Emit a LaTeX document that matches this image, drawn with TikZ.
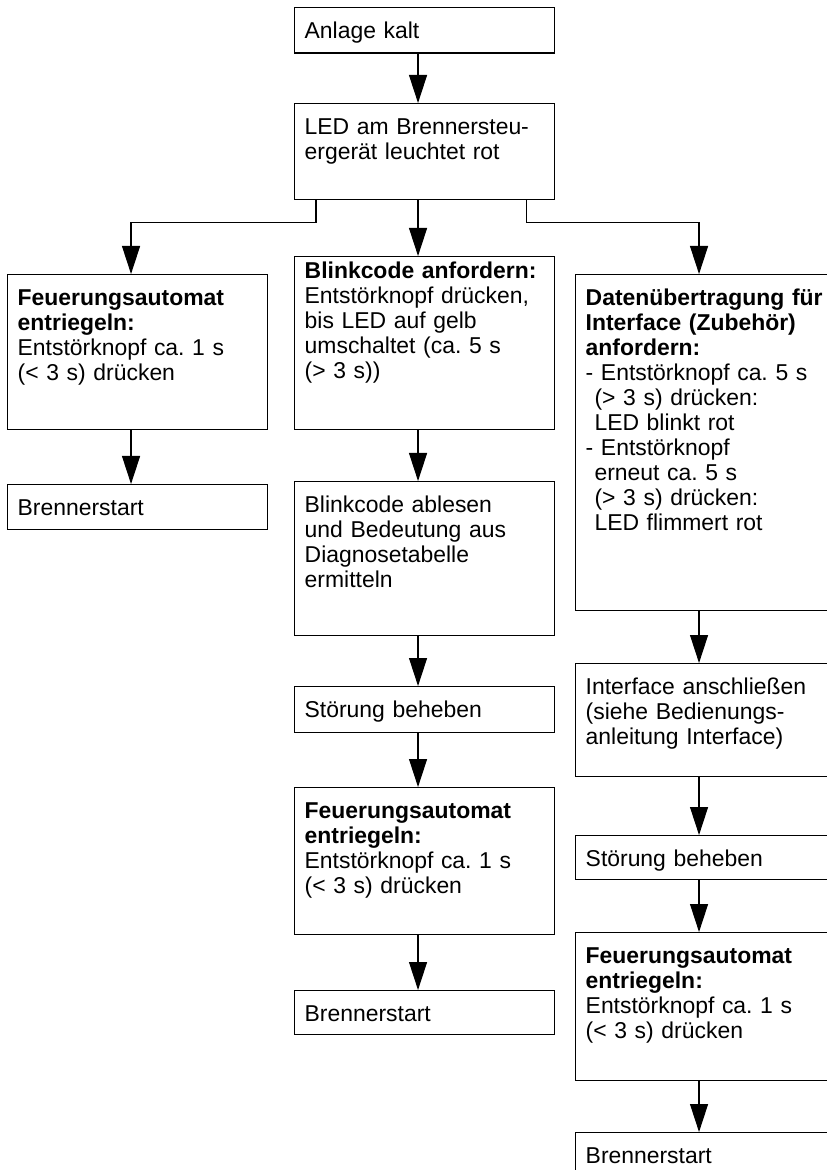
\documentclass[tikz,border=0pt]{standalone}
\usepackage{fontspec}
\setmainfont{Liberation Sans}
\usetikzlibrary{arrows.meta}
\frenchspacing

\begin{document}
\begin{tikzpicture}[x=.025cm, y=-.025cm, line width=1pt, >={Triangle[length=.7cm,width=.45cm]},
  font=\fontsize{16.3}{17.8}\selectfont,
  kasten/.style={draw, anchor=north west, text width=6cm, align=left, inner xsep=.25cm, inner ysep=0pt, text height=.76cm, text depth=#1},
  pfeil/.style={->, line width=.8pt}]
\useasboundingbox (0,0) rectangle (827,1170);
\node[kasten=.375cm] (kalt) at (294,7) {Anlage kalt};
\node[kasten=1.64cm] (led) at (294,103) {LED am Brennersteu-\\ergerät leuchtet rot};
\node[kasten=3.115cm] (entr1) at (7,274) {\textbf{Feuerungsautomat}\\\textbf{entriegeln:}\\Entstörknopf ca. 1 s\\(< 3 s) drücken};
\node[kasten=.365cm] (start1) at (7,484) {Brennerstart};
\node[kasten=3.775cm, text height=.55cm] (blink) at (294,256) {\textbf{Blinkcode anfordern:}\\Entstörknopf drücken,\\bis LED auf gelb\\umschaltet (ca. 5 s\\(> 3 s))};
\node[kasten=3.09cm] (ablesen) at (294,481) {Blinkcode ablesen\\und Bedeutung aus\\Diagnosetabelle\\ermitteln};
\node[kasten=.39cm] (stoer2) at (294,686) {Störung beheben};
\node[kasten=2.915cm] (entr2) at (294,787) {\textbf{Feuerungsautomat}\\\textbf{entriegeln:}\\Entstörknopf ca. 1 s\\(< 3 s) drücken};
\node[kasten=.34cm] (start2) at (294,990) {Brennerstart};
\node[kasten=7.64cm] (daten) at (575,274) {\textbf{Datenübertragung für}\\\textbf{Interface (Zubehör)}\\\textbf{anfordern:}\\- Entstörknopf ca. 5 s\\\hspace*{.22cm}(> 3 s) drücken:\\\hspace*{.22cm}LED blinkt rot\\- Entstörknopf\\\hspace*{.22cm}erneut ca. 5 s\\\hspace*{.22cm}(> 3 s) drücken:\\\hspace*{.22cm}LED flimmert rot};
\node[kasten=2.065cm] (interface) at (575,663) {Interface anschließen\\(siehe Bedienungs-\\anleitung Interface)};
\node[kasten=.34cm] (stoer3) at (575,835) {Störung beheben};
\node[kasten=2.94cm] (entr3) at (575,932) {\textbf{Feuerungsautomat}\\\textbf{entriegeln:}\\Entstörknopf ca. 1 s\\(< 3 s) drücken};
\node[kasten=.34cm] (start3) at (575,1132) {Brennerstart};

\foreach \a/\b in {kalt/led, led/blink, entr1/start1, blink/ablesen, ablesen/stoer2, stoer2/entr2, entr2/start2, daten/interface, interface/stoer3, stoer3/entr3, entr3/start3}
  \draw[pfeil] ([xshift=3.1cm]\a.south west) -- ([xshift=3.1cm]\b.north west);
\draw[pfeil] ([xshift=.55cm]led.south west) -- ++(0,-.55cm) -| ([xshift=3.1cm]entr1.north west);
\draw[pfeil] ([xshift=-.725cm]led.south east) -- ++(0,-.55cm) -| ([xshift=3.1cm]daten.north west);
\end{tikzpicture}
\end{document}
